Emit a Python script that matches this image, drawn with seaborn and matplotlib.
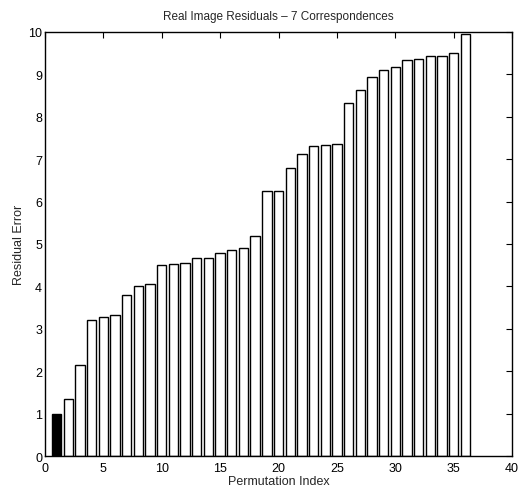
import matplotlib
matplotlib.use("Agg")
import matplotlib.pyplot as plt
import seaborn as sns
import pandas as pd

perm_index = list(range(1, 37))
residuals = [1.0, 1.35, 2.15, 3.2, 3.27, 3.33, 3.8, 4.0, 4.05, 4.5, 4.52, 4.55,
             4.68, 4.68, 4.78, 4.85, 4.9, 5.18, 6.25, 6.25, 6.8, 7.12, 7.3, 7.33,
             7.35, 8.33, 8.62, 8.93, 9.1, 9.18, 9.33, 9.35, 9.42, 9.43, 9.5, 9.95]
highlight = [i == 1 for i in perm_index]

sns.set_style("white")
plt.rcParams['font.family'] = ['Liberation Sans', 'DejaVu Sans']

df = pd.DataFrame({"idx": perm_index, "res": residuals, "hl": highlight})

fig = plt.figure(figsize=(5.29, 4.89), dpi=100)
ax = fig.add_axes([0.085, 0.065, 0.883, 0.868])
sns.barplot(data=df, x="idx", y="res", hue="hl", palette={True: "black", False: "white"},
            native_scale=True, dodge=False, width=0.8, edgecolor="black", linewidth=1.0,
            legend=False, ax=ax)
ax.set_xlim(0, 40)
ax.set_ylim(0, 10)
ax.set_xticks(range(0, 41, 5))
ax.set_yticks(range(0, 11))
ax.tick_params(axis="both", direction="in", length=4, width=0.8, top=True, right=True,
               labelsize=9, colors="black")
ax.tick_params(axis="x", pad=4)
ax.tick_params(axis="y", pad=2)
for s in ax.spines.values():
    s.set_visible(True)
    s.set_color("black")
    s.set_linewidth(1.0)
ax.set_xlabel("Permutation Index", fontsize=9, labelpad=1)
ax.set_ylabel("Residual Error", fontsize=9, labelpad=2)
ax.set_title("Real Image Residuals \u2013 7 Correspondences", fontsize=8.5, pad=9)
fig.savefig("out.png", dpi=100)
